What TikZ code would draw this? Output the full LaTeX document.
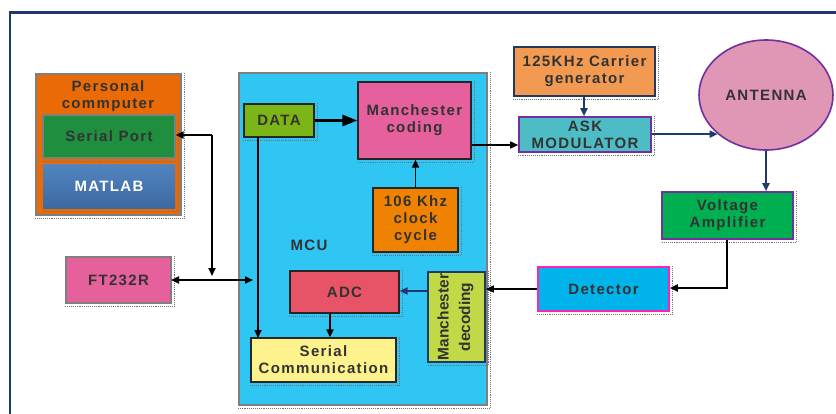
\documentclass[tikz,border=0pt]{standalone}
\usepackage{fontspec}
\usetikzlibrary{arrows.meta,shapes.geometric}
\newfontfamily\labfont{Liberation Sans}[LetterSpace=9]
\newfontfamily\sidefont{Liberation Sans}

\definecolor{framenavy}{HTML}{1F3A72}
\definecolor{linknavy}{HTML}{1F3A6E}
\definecolor{txt}{HTML}{333333}
\definecolor{pcorange}{HTML}{EA6A06}
\definecolor{portgreen}{HTML}{1F8F3F}
\definecolor{mattop}{HTML}{5185C0}
\definecolor{matbot}{HTML}{3D69A2}
\definecolor{ftpink}{HTML}{E6609B}
\definecolor{mcublue}{HTML}{30C6F4}
\definecolor{datagreen}{HTML}{7CB518}
\definecolor{codpink}{HTML}{E5609D}
\definecolor{clkorange}{HTML}{EF8200}
\definecolor{adcred}{HTML}{E75467}
\definecolor{seryellow}{HTML}{FDF28B}
\definecolor{decgreen}{HTML}{C2D947}
\definecolor{detblue}{HTML}{00B3EA}
\definecolor{detedge}{HTML}{FF22B8}
\definecolor{carorange}{HTML}{F39A52}
\definecolor{carnavy}{HTML}{1F3864}
\definecolor{askteal}{HTML}{4EBCC4}
\definecolor{purp}{HTML}{7030A0}
\definecolor{antpink}{HTML}{E096B5}
\definecolor{ampgreen}{HTML}{00B050}
\definecolor{edgegray}{HTML}{7F7F7F}

\tikzset{
  lab/.style={text=txt, font=\labfont\bfseries\fontsize{15}{17}\selectfont, align=center},
  box/.style={lab, draw=black!85, line width=1.2pt, inner sep=0pt, rectangle},
  % a box given by its two corners (x1,y1) and (x2,y2)
  span/.style n args={4}{minimum width={(#3)-(#1)}, minimum height={(#4)-(#2)},
    at={({((#1)+(#3))/2},{((#2)+(#4))/2})}},
  shadowdots/.style={draw=black!55, densely dotted, line width=0.9pt},
  blk/.style={draw=black, line width=1.8pt, -{Triangle[length=8pt,width=7pt]}},
  nvy/.style={draw=linknavy, line width=1.8pt, -{Triangle[length=8pt,width=7pt]}},
}

\begin{document}
\begin{tikzpicture}[x=1pt,y=-1pt]
\useasboundingbox (0,0) rectangle (836,413);
\clip (0,0) rectangle (836,413);

% outer frame
\draw[framenavy, line width=2.6pt] (10,12.5) rectangle (860,440);

% personal computer block
\node[box, draw=edgegray, fill=pcorange, span={36}{74}{181}{215}] (pc) {};
\node[lab] (pctitle) at (108,96) {Personal\\commputer};
\node[box, draw=edgegray, fill=portgreen, span={43}{115}{175}{158}] (sp) {Serial Port};
\node[box, draw=none, top color=mattop, bottom color=matbot, text=white, span={43}{164}{175}{208}] (mat) {MATLAB};
\node[box, draw=edgegray, fill=ftpink, span={66}{257}{171}{303}] (ft) {FT232R};

% microcontroller
\node[box, draw=edgegray, fill=mcublue, span={239}{73}{487}{405}] (mcu) {};
\node[lab] (mculab) at (309,245) {MCU};
\node[box, fill=datagreen, span={244}{104}{314}{137}] (data) {DATA};
\node[box, fill=codpink, span={358}{82}{471}{159}] (cod) {Manchester\\coding};
\node[box, fill=clkorange, span={373}{188}{458}{252}] (clk) {106 Khz\\clock\\cycle};
\node[box, fill=adcred, span={290}{271}{399}{313}] (adc) {ADC};
\node[box, fill=seryellow, span={251}{338}{396}{382}] (ser) {Serial\\Communication};
\node[box, draw=carnavy, line width=1.6pt, fill=decgreen, span={428}{272}{485}{362}] (dec) {};
\node[lab, font=\sidefont\bfseries\fontsize{15.5}{21.5}\selectfont, rotate=90] (declab) at ([xshift=-1pt]dec.center) {Manchester\\decoding};

% radio front end
\node[box, draw=carnavy, line width=1.6pt, fill=carorange, span={514}{47}{655}{96}] (car) {125KHz Carrier\\generator};
\node[box, draw=purp, line width=1.6pt, fill=askteal, span={519}{117}{651}{152}] (ask) {ASK\\MODULATOR};
\node[lab, draw=purp, line width=1.6pt, fill=antpink, ellipse, minimum width=134pt, minimum height=110pt, inner sep=0pt] (ant) at (766,95) {ANTENNA};
\node[box, draw=purp, line width=1.6pt, fill=ampgreen, span={662}{192}{793}{239}] (amp) {Voltage\\Amplifier};
\node[box, draw=detedge, line width=1.6pt, fill=detblue, span={538}{267}{669}{311}] (det) {Detector};

% dotted drop shadows
\foreach \n in {pc,sp,mat,ft,mcu,data,cod,clk,adc,ser,dec,car,ask,amp,det}
  \draw[shadowdots] ([xshift=2.5pt]\n.north east) -- ([xshift=2.5pt,yshift=-2.5pt]\n.south east) -- ([yshift=-2.5pt]\n.south west);

% coordinates for the bent links
\coordinate (pcbus) at (212,135);
\coordinate (busdrop) at (212,276);
\coordinate (ftright) at (171,280);
\coordinate (mcuin) at (253,280);
\coordinate (ampdown) at (727,288);
\coordinate (datadown) at (258,137);
\coordinate (sertopl) at (258,338);

% transmit path
\draw[draw=black, line width=3pt, -{Triangle[length=15pt,width=11pt]}] (data.east) -- (cod.west |- data.east);
\draw[blk] (clk.north) -- (cod.south -| clk.north);
\draw[blk, line width=1.5pt] (cod.east |- 0,145) -- (ask.west |- 0,145);
\draw[nvy] (car.south -| 584,0) -- (ask.north -| 584,0);
\draw[nvy] (ask.east |- ant.219.7) -- (ant.219.7);
\draw[nvy] (ant.south) -- (amp.north -| ant.south);

% receive path
\draw[blk] (amp.south -| ampdown) -- (ampdown) -- (det.east |- ampdown);
\draw[blk, line width=1.5pt] (det.west |- 0,289) -- (dec.east |- 0,289);
\draw[nvy] (dec.west |- 0,291) -- (adc.east |- 0,291);
\draw[blk] (adc.south -| 330,0) -- (ser.north -| 330,0);
\draw[blk] (datadown) -- (sertopl);

% PC link
\draw[blk] (pcbus) -- (sp.east |- pcbus);
\draw[blk] (pcbus) -- (busdrop);
\draw[draw=black, line width=1.8pt, {Triangle[length=8pt,width=7pt]}-{Triangle[length=8pt,width=7pt]}] (ftright) -- (mcuin);
\end{tikzpicture}
\end{document}
